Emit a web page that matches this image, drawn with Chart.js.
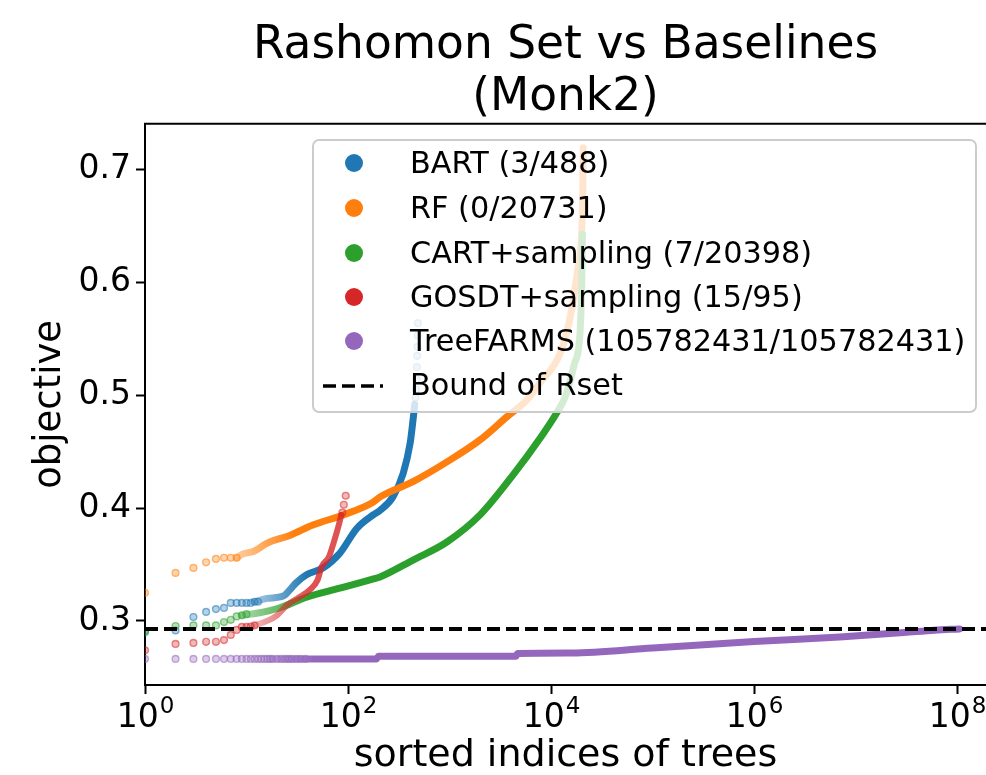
<!DOCTYPE html>
<html>
<head>
<meta charset="utf-8">
<script src="https://cdn.jsdelivr.net/npm/chart.js@4.4.1/dist/chart.umd.min.js"></script>
<style>
html,body{margin:0;padding:0;background:#fff;}
#wrap{position:relative;width:986px;height:775px;overflow:hidden;}
#c{position:absolute;left:0;top:0;}
#legend{position:absolute;left:312px;top:139px;width:665px;height:274px;border:2px solid #cccccc;border-radius:7px;background:rgba(255,255,255,0.8);box-sizing:border-box;font-family:'DejaVu Sans';font-size:30.3px;color:#000;}
.item{position:absolute;left:0;height:40px;line-height:40px;white-space:nowrap;}
.mk{position:absolute;left:31px;top:11px;width:18px;height:18px;border-radius:50%;}
.lb{position:absolute;left:96px;top:0;}
.dash{position:absolute;left:9px;top:18px;}
</style>
</head>
<body>
<div id="wrap">
<canvas id="c" width="986" height="775"></canvas>
<div id="legend"></div>
</div>
<script>
// ---------- labels ----------
const chartTitle = ['Rashomon Set vs Baselines', '(Monk2)'];
const xAxisTitle = 'sorted indices of trees';
const yAxisTitle = 'objective';
const seriesNames = ['BART (3/488)', 'RF (0/20731)', 'CART+sampling (7/20398)', 'GOSDT+sampling (15/95)', 'TreeFARMS (105782431/105782431)'];
const boundLabel = 'Bound of Rset';
const rsetBound = 0.2929;
const xTickValues = [1, 1e2, 1e4, 1e6, 1e8];
const xTickBase = '10';
const xTickExponents = ['0', '2', '4', '6', '8'];
const yTickValues = [0.3, 0.4, 0.5, 0.6, 0.7];
const yTickLabels = ['0.3', '0.4', '0.5', '0.6', '0.7'];

// ---------- BART ----------
const bartSparseIdx = [1, 2, 3, 4, 5, 6, 7, 8, 9, 10, 11, 12, 13];
const bartSparseObj = [0.291, 0.2915, 0.3035, 0.308, 0.3105, 0.3115, 0.316, 0.316, 0.316, 0.316, 0.316, 0.317, 0.317];
const bartCurveIdx = [12, 16, 23, 27, 31, 39, 57, 83, 122, 177, 207, 277, 350, 410, 437, 455];
const bartCurveObj = [0.317, 0.320, 0.322, 0.328, 0.334, 0.341, 0.347, 0.360, 0.382, 0.394, 0.398, 0.410, 0.431, 0.458, 0.478, 0.492];
const bartTailIdx = [462, 468, 473, 477, 481, 484, 486, 488];
const bartTailObj = [0.498, 0.505, 0.514, 0.525, 0.535, 0.543, 0.553, 0.564];

// ---------- RF ----------
const rfSparseIdx = [1, 2, 3, 4, 5, 6, 7, 8];
const rfSparseObj = [0.325, 0.3426, 0.347, 0.352, 0.355, 0.356, 0.356, 0.356];
const rfCurveIdx = [8, 9, 12, 16, 27, 45, 90, 175, 207, 437, 944, 2000, 3680, 5800, 7800, 12400, 15500, 18500, 20500, 20731];
const rfCurveObj = [0.356, 0.359, 0.362, 0.369, 0.376, 0.385, 0.394, 0.405, 0.410, 0.4235, 0.441, 0.4605, 0.481, 0.496, 0.511, 0.538, 0.570, 0.614, 0.673, 0.7195];

// ---------- CART+sampling ----------
const cartSparseIdx = [1, 2, 3, 4, 5, 6, 7, 8, 9, 10];
const cartSparseObj = [0.290, 0.2955, 0.296, 0.296, 0.296, 0.299, 0.301, 0.304, 0.305, 0.306];
const cartCurveIdx = [9, 13, 21, 39, 83, 175, 207, 437, 944, 2000, 4230, 7800, 11400, 14000, 17000, 19300, 20100, 20398];
const cartCurveObj = [0.305, 0.307, 0.3115, 0.321, 0.329, 0.337, 0.339, 0.354, 0.370, 0.394, 0.4295, 0.462, 0.4845, 0.500, 0.528, 0.555, 0.600, 0.643];

// ---------- GOSDT+sampling ----------
const gosdtSparseIdx = [1, 2, 3, 4, 5, 6, 7, 8, 9, 10, 11, 12, 88, 91, 95];
const gosdtSparseObj = [0.274, 0.2796, 0.2805, 0.2815, 0.2815, 0.283, 0.2876, 0.292, 0.2947, 0.2947, 0.295, 0.296, 0.396, 0.403, 0.411];
const gosdtCurveIdx = [12, 15, 20, 25, 33, 42, 50, 55, 65, 72, 80, 86];
const gosdtCurveObj = [0.296, 0.299, 0.305, 0.314, 0.321, 0.3275, 0.336, 0.348, 0.357, 0.369, 0.383, 0.394];

// ---------- TreeFARMS ----------
const farmsSparseIdx = [1, 2, 3, 4, 5, 6, 7, 8, 9, 10, 11, 12, 13, 14, 15, 16, 17, 18, 20, 22, 24, 26, 28, 31, 34, 38];
const farmsSparseObj = [0.2663, 0.2663, 0.2663, 0.2663, 0.2663, 0.2663, 0.2663, 0.2663, 0.2663, 0.2663, 0.2663, 0.2663, 0.2663, 0.2663, 0.2663, 0.2663, 0.2663, 0.2663, 0.2663, 0.2663, 0.2663, 0.2663, 0.2663, 0.2663, 0.2663, 0.2663];
const farmsCurveIdx = [18, 190, 200, 4500, 4700, 16000, 100000, 1000000, 7000000, 30000000, 60000000, 105782431];
const farmsCurveObj = [0.2663, 0.2663, 0.2686, 0.2686, 0.2712, 0.2716, 0.2760, 0.2817, 0.2858, 0.2897, 0.2918, 0.2929];

// ---------- colours ----------
const colBlue = '31,119,180', colOrange = '255,127,14', colGreen = '44,160,44', colRed = '214,39,40', colPurple = '148,103,189';
const seriesColors = [colBlue, colOrange, colGreen, colRed, colPurple];

const zip = (xs, ys) => xs.map((x, i) => ({x: x, y: ys[i]}));

function fadeIn(rgb, fromIdx, toIdx, a0, a1) {
  return (ctx) => {
    const chart = ctx.chart;
    const xs = chart.scales && chart.scales.x;
    if (!xs || !chart.chartArea) return `rgba(${rgb},${a1})`;
    const p0 = xs.getPixelForValue(fromIdx), p1 = xs.getPixelForValue(toIdx);
    if (!isFinite(p0) || !isFinite(p1) || p1 <= p0) return `rgba(${rgb},${a1})`;
    const g = chart.ctx.createLinearGradient(p0, 0, p1, 0);
    g.addColorStop(0, `rgba(${rgb},${a0})`);
    g.addColorStop(1, `rgba(${rgb},${a1})`);
    return g;
  };
}

function sparseSet(label, xs, ys, rgb, order) {
  return {
    label: label, data: zip(xs, ys), showLine: false, order: order,
    pointRadius: 3.4, pointBorderWidth: 1.4,
    pointBackgroundColor: `rgba(${rgb},0.33)`, pointBorderColor: `rgba(${rgb},0.55)`,
    pointHoverRadius: 3.4
  };
}
function curveSet(label, xs, ys, rgb, order, width, fromIdx, toIdx, a0, a1) {
  return {
    label: label, data: zip(xs, ys), showLine: true, order: order,
    pointRadius: 0, pointHoverRadius: 0,
    borderWidth: width, borderCapStyle: 'round', borderJoinStyle: 'round',
    cubicInterpolationMode: 'monotone',
    borderColor: fadeIn(rgb, fromIdx, toIdx, a0, a1)
  };
}

const xMaxIdx = 1.93e8;
const yMin = 0.2432, yMax = 0.7408;

const datasets = [
  {label: boundLabel, data: [{x: 1, y: rsetBound}, {x: xMaxIdx, y: rsetBound}], showLine: true, order: 0,
   pointRadius: 0, borderColor: '#000', borderWidth: 4, borderDash: [13, 6]},
  curveSet(seriesNames[4], farmsCurveIdx, farmsCurveObj, colPurple, 1, 7, 18, 45, 0.45, 1),
  sparseSet(seriesNames[4], farmsSparseIdx, farmsSparseObj, colPurple, 2),
  curveSet(seriesNames[3], gosdtCurveIdx, gosdtCurveObj, colRed, 3, 6, 12, 40, 0.35, 0.8),
  sparseSet(seriesNames[3], gosdtSparseIdx, gosdtSparseObj, colRed, 4),
  curveSet(seriesNames[2], cartCurveIdx, cartCurveObj, colGreen, 5, 7, 9, 40, 0.4, 1),
  sparseSet(seriesNames[2], cartSparseIdx, cartSparseObj, colGreen, 6),
  curveSet(seriesNames[1], rfCurveIdx, rfCurveObj, colOrange, 7, 7, 8, 30, 0.4, 1),
  sparseSet(seriesNames[1], rfSparseIdx, rfSparseObj, colOrange, 8),
  curveSet(seriesNames[0], bartCurveIdx, bartCurveObj, colBlue, 9, 7, 12, 40, 0.4, 1),
  sparseSet(seriesNames[0], bartSparseIdx, bartSparseObj, colBlue, 10),
  sparseSet(seriesNames[0], bartTailIdx, bartTailObj, colBlue, 10)
];

// top spine + mathtext-like x tick labels (10 with superscript exponent), placed via the x scale
const axisExtras = {
  id: 'axisExtras',
  afterDraw(chart) {
    const {ctx, chartArea: a} = chart;
    ctx.save();
    ctx.strokeStyle = '#000';
    ctx.lineWidth = 2;
    ctx.beginPath();
    ctx.moveTo(a.left - 1, a.top);
    ctx.lineTo(a.right + 2, a.top);
    ctx.stroke();

    const xs = chart.scales.x;
    const baseFont = "33px 'DejaVu Sans'";
    const supFont = "23px 'DejaVu Sans'";
    ctx.fillStyle = '#000';
    ctx.textBaseline = 'alphabetic';
    ctx.textAlign = 'left';
    const baseY = a.bottom + 42;
    xTickValues.forEach((v, i) => {
      const px = xs.getPixelForValue(v);
      ctx.font = baseFont;
      const w1 = ctx.measureText(xTickBase).width;
      ctx.font = supFont;
      const w2 = ctx.measureText(xTickExponents[i]).width;
      const x0 = px - (w1 + w2) / 2;
      ctx.font = baseFont;
      ctx.fillText(xTickBase, x0, baseY);
      ctx.font = supFont;
      ctx.fillText(xTickExponents[i], x0 + w1 + 1, baseY - 14);
    });
    ctx.restore();
  }
};

Chart.defaults.font.family = "'DejaVu Sans'";
Chart.defaults.color = '#000';

new Chart(document.getElementById('c'), {
  type: 'scatter',
  data: {datasets: datasets},
  plugins: [axisExtras],
  options: {
    responsive: false, animation: false, devicePixelRatio: 1,
    events: [],
    layout: {padding: 0, autoPadding: false},
    plugins: {
      legend: {display: false},
      tooltip: {enabled: false},
      title: {
        display: true, text: chartTitle, color: '#000', fullSize: false,
        font: {size: 45.5, weight: 'normal', lineHeight: 1.14},
        padding: {top: 20, bottom: 0}
      }
    },
    scales: {
      x: {
        type: 'logarithmic', min: 1, max: xMaxIdx,
        afterBuildTicks: (s) => { s.ticks = xTickValues.map(v => ({value: v, major: true})); },
        afterFit: (s) => { s.height = 90; s.paddingLeft = 0; s.paddingRight = 0; },
        ticks: {
          autoSkip: false, maxRotation: 0, minRotation: 0, padding: 2,
          font: {size: 33}, color: 'rgba(0,0,0,0)',
          callback: () => ''
        },
        grid: {display: true, drawOnChartArea: false, drawTicks: true, tickLength: 9, tickWidth: 2, tickColor: '#000'},
        border: {display: true, color: '#000', width: 2},
        title: {display: true, text: xAxisTitle, color: '#000', font: {size: 38, lineHeight: 1}, padding: {top: 0, bottom: 0}}
      },
      y: {
        type: 'linear', min: yMin, max: yMax,
        afterBuildTicks: (s) => { s.ticks = yTickValues.map(v => ({value: v})); },
        afterFit: (s) => { s.width = 145; s.paddingTop = 0; s.paddingBottom = 0; },
        ticks: {
          autoSkip: false, padding: 5, font: {size: 33}, color: '#000',
          callback: (v, i) => yTickLabels[i]
        },
        grid: {display: true, drawOnChartArea: false, drawTicks: true, tickLength: 9, tickWidth: 2, tickColor: '#000'},
        border: {display: true, color: '#000', width: 2},
        title: {display: true, text: yAxisTitle, color: '#000', font: {size: 37, lineHeight: 1}, padding: {top: 32, bottom: 0}}
      }
    }
  }
});

// ---------- legend (HTML overlay, matplotlib-style) ----------
const legendRowsY = [22, 67, 112, 156, 200, 244];
const leg = document.getElementById('legend');
seriesNames.forEach((name, i) => {
  const it = document.createElement('div');
  it.className = 'item';
  it.style.top = (legendRowsY[i] - 20) + 'px';
  const mk = document.createElement('div');
  mk.className = 'mk';
  mk.style.background = `rgb(${seriesColors[i]})`;
  const lb = document.createElement('span');
  lb.className = 'lb';
  lb.textContent = name;
  it.appendChild(mk); it.appendChild(lb);
  leg.appendChild(it);
});
{
  const it = document.createElement('div');
  it.className = 'item';
  it.style.top = (legendRowsY[5] - 20) + 'px';
  const ns = 'http://www.w3.org/2000/svg';
  const svg = document.createElementNS(ns, 'svg');
  svg.setAttribute('width', '62'); svg.setAttribute('height', '6');
  svg.setAttribute('class', 'dash');
  const ln = document.createElementNS(ns, 'line');
  ln.setAttribute('x1', '0'); ln.setAttribute('y1', '3'); ln.setAttribute('x2', '60'); ln.setAttribute('y2', '3');
  ln.setAttribute('stroke', '#000'); ln.setAttribute('stroke-width', '3.5'); ln.setAttribute('stroke-dasharray', '13 6');
  svg.appendChild(ln);
  const lb = document.createElement('span');
  lb.className = 'lb';
  lb.textContent = boundLabel;
  it.appendChild(svg); it.appendChild(lb);
  leg.appendChild(it);
}
</script>
</body>
</html>
